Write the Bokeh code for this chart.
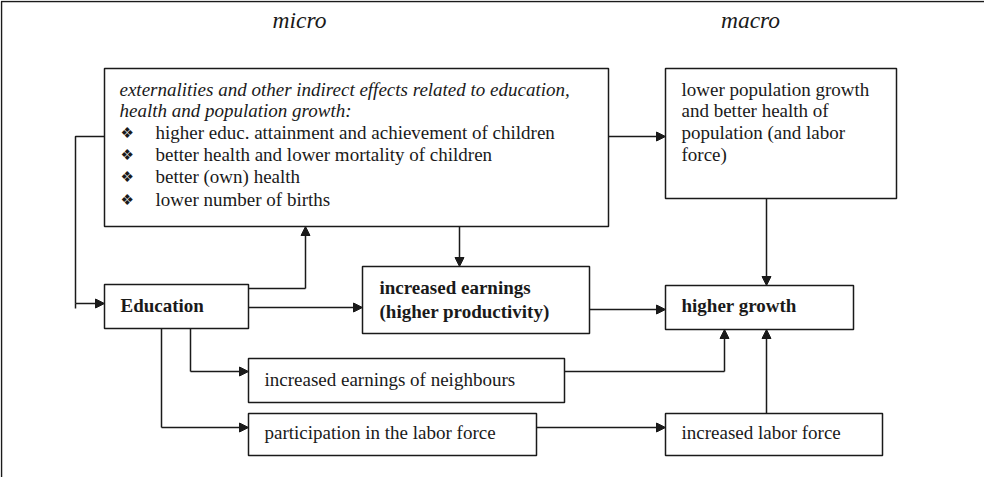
from bokeh.plotting import figure
from bokeh.models import Range1d, Arrow, NormalHead
from bokeh.core.properties import value
from bokeh.embed import file_html
from bokeh.resources import INLINE

# ---- texts ----
headers = ["micro", "macro"]
ext_title = ["externalities and other indirect effects related to education,",
             "health and population growth:"]
ext_items = ["higher educ. attainment and achievement of children",
             "better health and lower mortality of children",
             "better (own) health",
             "lower number of births"]
macro_lines = ["lower population growth", "and better health of",
               "population (and labor", "force)"]
bold_labels = ["Education", "increased earnings", "(higher productivity)", "higher growth"]
plain_labels = ["increased earnings of neighbours", "participation in the labor force",
                "increased labor force"]

# ---- layout (pixel coords of the page) ----
boxes = {  # left, top, right, bottom
    "ext": (112, 76, 616, 234),
    "macro": (673, 76, 904, 206),
    "edu": (112, 292, 256, 336),
    "earn": (370, 274, 597, 341),
    "growth": (673, 293, 861, 337),
    "neigh": (256, 366, 572, 410),
    "part": (256, 421, 544, 463),
    "labor": (673, 421, 890, 463),
}

FONT = value("Liberation Serif")
INK = "#1a1a1a"

p = figure(width=984, height=477, output_backend="svg", toolbar_location=None,
           x_range=Range1d(8, 992), y_range=Range1d(485, 8),
           min_border=0, outline_line_color=None)
p.axis.visible = False
p.grid.visible = False
p.background_fill_color = "white"

# outer frame (top and left)
p.line([8.5, 992], [9, 9], line_color=INK, line_width=1.5)
p.line([9, 9], [9, 485], line_color=INK, line_width=1.5)

# boxes
for (l, t, r, b) in boxes.values():
    p.quad(left=l, right=r, top=t, bottom=b, fill_color=None,
           line_color=INK, line_width=1.5)

# connector polylines (no heads)
segs_x = [[112, 83, 83], [256, 313], [198, 198], [169, 169], [572, 732], [83, 83]]
segs_y = [[144, 144, 311], [296, 296], [336, 379], [336, 435], [379, 379], [311, 316]]
p.multi_line(segs_x, segs_y, line_color=INK, line_width=1.5)

# arrows (x0, y0, x1, y1)
arrows = [
    (83, 311, 112, 311),
    (313, 296, 313, 234),
    (467, 234, 467, 274),
    (616, 144, 673, 144),
    (774, 206, 774, 293),
    (256, 315, 370, 315),
    (597, 317, 673, 317),
    (198, 379, 256, 379),
    (169, 435, 256, 435),
    (732, 379, 732, 337),
    (544, 435, 673, 435),
    (774, 421, 774, 337),
]
for x0, y0, x1, y1 in arrows:
    p.add_layout(Arrow(end=NormalHead(size=9, fill_color=INK, line_color=INK, line_width=1),
                       x_start=x0, y_start=y0, x_end=x1, y_end=y1,
                       line_color=INK, line_width=1.5))

def txt(xs, ys, labels, size, style="normal", font=FONT, align="left"):
    p.text(x=xs, y=ys, text=labels, text_font=font, text_font_size=size,
           text_font_style=style, text_baseline="middle", text_align=align,
           text_color=INK)

# headers
txt([307, 758], [27, 27], headers, "23.5px", "italic", align="center")

# externalities box
txt([127, 127], [97, 118], ext_title, "19px", "italic")
item_y = [140, 162, 184, 207]
txt([128] * 4, item_y, ["\u2756"] * 4, "15px", font=value("DejaVu Sans"))
txt([163] * 4, item_y, ext_items, "19px")

# macro box
txt([689] * 4, [97, 118, 140, 162], macro_lines, "19px")

# bold labels
txt([128, 387, 387, 689], [313, 295, 319, 313], bold_labels, "19px", "bold")

# plain labels
txt([272, 272, 689], [387, 440, 440], plain_labels, "19px")

open("out.html", "w").write(file_html(p, INLINE))
